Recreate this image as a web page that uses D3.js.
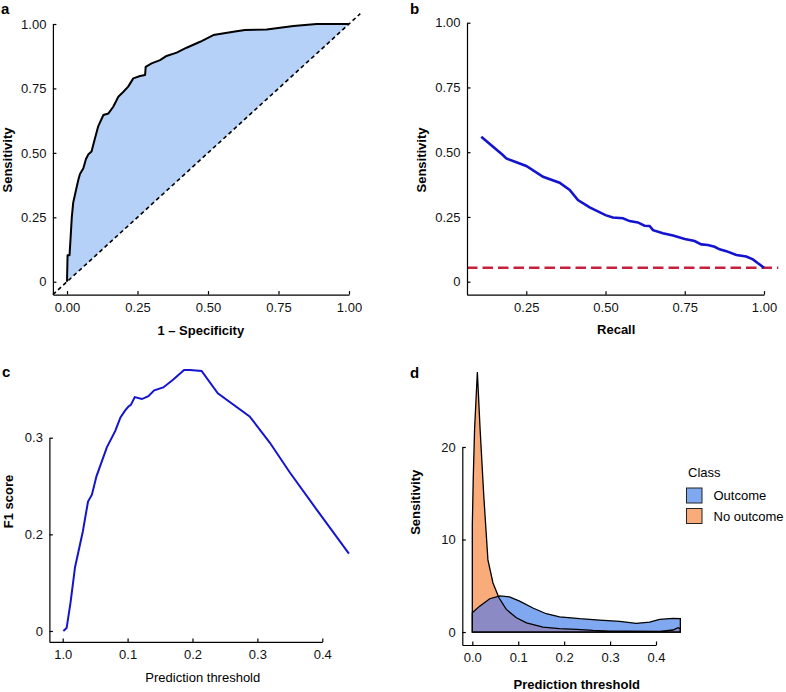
<!DOCTYPE html>
<meta charset="utf-8">
<style>
  body { margin: 0; background: #fff; }
  text { font-family: "Liberation Sans", Arial, Helvetica, sans-serif; }
</style>
<body>
<svg id="chart" width="786" height="692"></svg>
<script src="https://cdn.jsdelivr.net/npm/d3@7"></script>
<script>
// panel a - ROC curve
var rocFpr = [0, 0.002, 0.009, 0.013, 0.017, 0.022, 0.032, 0.04, 0.046, 0.058, 0.067, 0.076, 0.087, 0.099, 0.111, 0.129, 0.147, 0.164, 0.182, 0.2, 0.217, 0.235, 0.259, 0.277, 0.279, 0.3, 0.33, 0.353, 0.389, 0.424, 0.472, 0.519, 0.59, 0.631, 0.708, 0.803, 0.885, 1.0];
var rocTpr = [0, 0.103, 0.103, 0.175, 0.25, 0.307, 0.356, 0.395, 0.418, 0.44, 0.475, 0.495, 0.505, 0.556, 0.604, 0.647, 0.653, 0.679, 0.718, 0.737, 0.757, 0.789, 0.798, 0.802, 0.834, 0.847, 0.86, 0.876, 0.889, 0.908, 0.931, 0.957, 0.97, 0.977, 0.979, 0.992, 1.0, 1.0];
var unitTicks = [0, 0.25, 0.5, 0.75, 1];
var rocXLabels = ["0.00", "0.25", "0.50", "0.75", "1.00"];
var rocYLabels = ["0", "0.25", "0.50", "0.75", "1.00"];

// panel b - precision / recall
var prRecall = [0.108, 0.176, 0.187, 0.25, 0.303, 0.355, 0.387, 0.413, 0.45, 0.5, 0.523, 0.555, 0.576, 0.602, 0.623, 0.639, 0.65, 0.681, 0.713, 0.75, 0.781, 0.802, 0.823, 0.844, 0.86, 0.881, 0.913, 0.944, 0.965, 0.981, 1.0];
var prSens = [0.56, 0.489, 0.476, 0.447, 0.405, 0.382, 0.354, 0.315, 0.287, 0.257, 0.248, 0.245, 0.234, 0.229, 0.216, 0.215, 0.199, 0.187, 0.178, 0.165, 0.157, 0.144, 0.142, 0.135, 0.125, 0.118, 0.103, 0.097, 0.086, 0.071, 0.054];
var prBaseline = 0.054;
var prXTicks = [0.25, 0.5, 0.75, 1];
var prXLabels = ["0.25", "0.50", "0.75", "1.00"];

// panel c - F1 score by threshold
var f1Thr = [0.001, 0.006, 0.012, 0.019, 0.031, 0.039, 0.045, 0.052, 0.068, 0.081, 0.089, 0.096, 0.101, 0.105, 0.111, 0.122, 0.132, 0.141, 0.155, 0.17, 0.187, 0.196, 0.214, 0.239, 0.288, 0.319, 0.35, 0.393, 0.441];
var f1Score = [0.1, 0.103, 0.129, 0.166, 0.203, 0.234, 0.241, 0.26, 0.29, 0.307, 0.321, 0.328, 0.332, 0.334, 0.342, 0.34, 0.343, 0.349, 0.352, 0.36, 0.37, 0.37, 0.369, 0.346, 0.322, 0.295, 0.264, 0.224, 0.18];
var f1YTicks = [0.1, 0.2, 0.3];
var f1YLabels = ["0", "0.2", "0.3"];
var thrTicks = [0, 0.1, 0.2, 0.3, 0.4];
var f1XLabels = ["1.0", "0.1", "0.2", "0.3", "0.4"];

// panel d - density by class
var noOutX = [0, 0.002, 0.005, 0.011, 0.017, 0.025, 0.034, 0.045, 0.058, 0.074, 0.096, 0.118, 0.154, 0.19, 0.227, 0.263, 0.299, 0.335, 0.408, 0.437, 0.448, 0.453];
var noOutY = [11.5, 16.5, 22, 28.1, 21.9, 14.7, 7.8, 5.3, 3.7, 2.45, 1.55, 1.0, 0.54, 0.36, 0.29, 0.18, 0.11, 0.11, 0.07, 0.22, 0.47, 0.36];
var outX = [0, 0.016, 0.038, 0.06, 0.081, 0.103, 0.132, 0.161, 0.19, 0.234, 0.277, 0.321, 0.357, 0.386, 0.408, 0.437, 0.453];
var outY = [2.09, 2.8, 3.6, 3.9, 3.8, 3.35, 2.6, 1.98, 1.65, 1.44, 1.29, 1.15, 0.94, 1.08, 1.37, 1.47, 1.44];
var densYTicks = [0, 10, 20];
var densXLabels = ["0.0", "0.1", "0.2", "0.3", "0.4"];
var classNames = ["Outcome", "No outcome"];
var classColors = ["#80a8f1", "#f9ab7a"];
var overlapColor = "#8c8ac4";

var svg = d3.select("#chart");

function drawAxes(g, x, y, xt, xl, yt, yl) {
  g.append("g")
    .attr("transform", "translate(0," + y.range()[0] + ")")
    .call(d3.axisBottom(x).tickValues(xt).tickFormat(function (d, i) { return xl[i]; })
      .tickSize(-3.5).tickSizeOuter(0).tickPadding(8))
    .call(styleAxis);
  g.append("g")
    .attr("transform", "translate(" + x.range()[0] + ",0)")
    .call(d3.axisLeft(y).tickValues(yt).tickFormat(function (d, i) { return yl[i]; })
      .tickSize(-3.5).tickSizeOuter(0).tickPadding(6.5))
    .call(styleAxis);
}
function styleAxis(s) {
  s.attr("font-size", 13).attr("font-family", null);
  s.selectAll("path,line").attr("stroke", "#000").attr("stroke-width", 1.2);
  s.selectAll("text").attr("fill", "#111");
}
function label(x, y, txt, opts) {
  opts = opts || {};
  var t = svg.append("text").attr("x", x).attr("y", y).text(txt)
    .attr("font-size", opts.size || 13)
    .attr("font-weight", opts.bold === false ? "normal" : "bold")
    .attr("text-anchor", opts.anchor || "middle");
  if (opts.rotate) t.attr("transform", "rotate(-90," + x + "," + y + ")");
  return t;
}

// ---- a ----
var xa = d3.scaleLinear().domain([-0.05, 1]).range([52.9, 349]);
var ya = d3.scaleLinear().domain([-0.05, 1]).range([294.6, 24]);
var ga = svg.append("g");
var roc = rocFpr.map(function (d, i) { return [d, rocTpr[i]]; });
var rocPoly = roc.concat([[1, 1], [0, 0]]);
var rocLine = d3.line().x(function (d) { return xa(d[0]); }).y(function (d) { return ya(d[1]); });
ga.append("path")
  .attr("d", rocLine(rocPoly) + "Z")
  .attr("fill", "#b5d1f8");
ga.append("line")
  .attr("x1", xa(-0.05)).attr("y1", ya(-0.05)).attr("x2", xa(1.04)).attr("y2", ya(1.04))
  .attr("stroke", "#000").attr("stroke-width", 1.6).attr("stroke-dasharray", "4,3");
ga.append("path")
  .attr("d", rocLine(roc))
  .attr("fill", "none").attr("stroke", "#000").attr("stroke-width", 2).attr("stroke-linejoin", "round");
drawAxes(ga, xa, ya, unitTicks, rocXLabels, unitTicks, rocYLabels);
label(1, 14, "a", { anchor: "start", size: 15 });
label(200.8, 334.5, "1 \u2013 Specificity");
label(11.5, 160, "Sensitivity", { rotate: true });

// ---- b ----
var xb = d3.scaleLinear().domain([0.063, 1]).range([467, 764]);
var yb = d3.scaleLinear().domain([-0.05, 1]).range([294.65, 22.7]);
var gb = svg.append("g");
gb.append("line")
  .attr("x1", xb(0.063)).attr("x2", xb(1.045)).attr("y1", yb(prBaseline)).attr("y2", yb(prBaseline))
  .attr("stroke", "#c8203c").attr("stroke-width", 2.6).attr("stroke-dasharray", "10.5,5");
gb.append("path")
  .attr("d", d3.line().x(function (d, i) { return xb(prRecall[i]); }).y(function (d) { return yb(d); })(prSens))
  .attr("fill", "none").attr("stroke", "#1414cf").attr("stroke-width", 2.6);
drawAxes(gb, xb, yb, prXTicks, prXLabels, unitTicks, rocYLabels);
label(410, 14, "b", { anchor: "start", size: 15 });
label(616.2, 334, "Recall");
label(425.5, 160, "Sensitivity", { rotate: true });

// ---- c ----
var xc = d3.scaleLinear().domain([-0.0205, 0.4]).range([49.4, 322.3]);
var yc = d3.scaleLinear().domain([0.0887, 0.3]).range([641.9, 437.7]);
var gc = svg.append("g");
gc.append("path")
  .attr("d", d3.line().x(function (d, i) { return xc(f1Thr[i]); }).y(function (d) { return yc(d); })(f1Score))
  .attr("fill", "none").attr("stroke", "#1414cf").attr("stroke-width", 2);
drawAxes(gc, xc, yc, thrTicks, f1XLabels, f1YTicks, f1YLabels);
label(2, 377, "c", { anchor: "start", size: 15 });
label(202.8, 681.5, "Prediction threshold", { bold: false });
label(13.3, 501.5, "F1 score", { rotate: true });

// ---- d ----
var xd = d3.scaleLinear().domain([-0.0218, 0.4]).range([462.3, 656]);
var yd = d3.scaleLinear().domain([-1.4, 20]).range([645, 447]);
var gd = svg.append("g");
var areaD = function (xs) {
  return d3.area().x(function (d, i) { return xd(xs[i]); }).y0(yd(0)).y1(function (d) { return yd(d); });
};
var outPath = areaD(outX)(outY);
var noPath = areaD(noOutX)(noOutY);
svg.append("defs").append("clipPath").attr("id", "clipNo").append("path").attr("d", noPath);
gd.append("path").attr("d", outPath).attr("fill", classColors[0]);
gd.append("path").attr("d", noPath).attr("fill", classColors[1]);
gd.append("path").attr("d", outPath).attr("fill", overlapColor).attr("clip-path", "url(#clipNo)");
gd.append("path").attr("d", outPath).attr("fill", "none").attr("stroke", "#000").attr("stroke-width", 1.3);
gd.append("path").attr("d", noPath).attr("fill", "none").attr("stroke", "#000").attr("stroke-width", 1.3);
drawAxes(gd, xd, yd, thrTicks, densXLabels, densYTicks, densYTicks.map(String));
label(410, 378, "d", { anchor: "start", size: 15 });
label(576.8, 688.5, "Prediction threshold");
label(420.5, 502.3, "Sensitivity", { rotate: true });

// legend
var lg = svg.append("g");
lg.append("text").attr("x", 688).attr("y", 477).attr("font-size", 13).text("Class");
lg.selectAll("rect").data(classNames).enter().append("rect")
  .attr("x", 686.5).attr("y", function (d, i) { return 488 + i * 20.5; })
  .attr("width", 15.5).attr("height", 15)
  .attr("fill", function (d, i) { return classColors[i]; })
  .attr("stroke", "#222").attr("stroke-width", 1);
lg.selectAll("text.item").data(classNames).enter().append("text")
  .attr("class", "item")
  .attr("x", 713.5).attr("y", function (d, i) { return 500 + i * 20.5; })
  .attr("font-size", 13).text(function (d) { return d; });
</script>
</body>
